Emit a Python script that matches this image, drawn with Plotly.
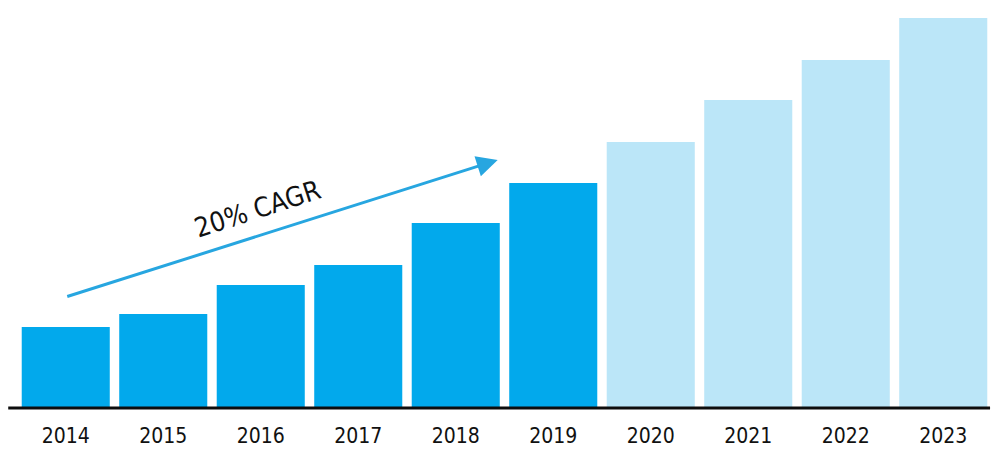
import plotly.graph_objects as go

years = [2014, 2015, 2016, 2017, 2018, 2019, 2020, 2021, 2022, 2023]
tick_labels = [str(y) for y in years]
values = [8.1, 9.4, 12.3, 14.3, 18.5, 22.5, 26.6, 30.8, 34.8, 39.0]
is_forecast = [False, False, False, False, False, False, True, True, True, True]

DARK = "#02a9ec"
LIGHT = "#bbe6f8"
colors = [LIGHT if f else DARK for f in is_forecast]

label_font = "'DejaVu Sans Condensed', 'Liberation Sans Narrow', 'Arial Narrow', sans-serif"

fig = go.Figure()
fig.add_trace(go.Bar(x=years, y=values, marker=dict(color=colors, line=dict(width=0)),
                     hoverinfo="x+y"))

fig.update_layout(
    width=992, height=451,
    margin=dict(l=17, r=0, t=0, b=43),
    paper_bgcolor="white", plot_bgcolor="white",
    bargap=0.097,
    showlegend=False,
    xaxis=dict(type="linear", range=[2013.5, 2023.5], tickvals=years, ticktext=tick_labels,
               showgrid=False, zeroline=False, showline=False, ticks="",
               ticklabelstandoff=13,
               tickfont=dict(family=label_font, size=21, color="#111111")),
    yaxis=dict(range=[0, 40.8], visible=False, showgrid=False, zeroline=False),
)

# baseline
fig.add_shape(type="line", xref="paper", yref="paper", x0=-0.009, x1=0.998, y0=0, y1=0,
              line=dict(color="#0d0d0d", width=3))

# CAGR arrow
fig.add_annotation(x=2018.43, y=24.8, ax=2014.0, ay=11.1, xref="x", yref="y",
                   axref="x", ayref="y", showarrow=True, arrowhead=2, arrowsize=1.4,
                   arrowwidth=3, arrowcolor="#27a6e0", text="")
fig.add_annotation(x=2015.97, y=20.0, xref="x", yref="y", text="20% CAGR", showarrow=False,
                   textangle=-18, font=dict(family=label_font, size=27, color="#111111"))

fig.write_html("out.html")
